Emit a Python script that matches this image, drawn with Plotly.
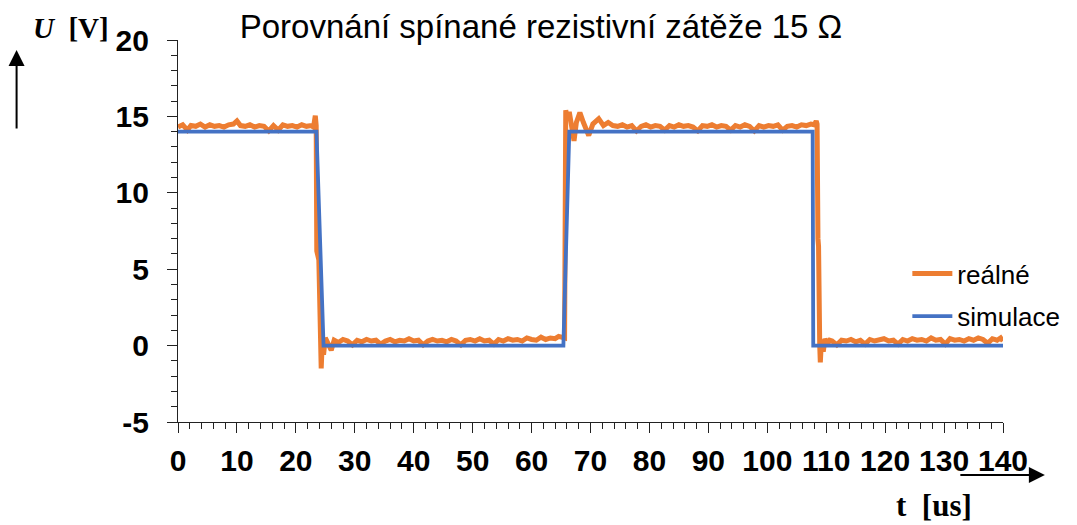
import plotly.graph_objects as go

# ---- data ----
t_real = [0.0, 0.8, 1.6, 2.2, 3.0, 3.8, 4.6, 5.4, 6.2, 7.0, 7.8, 8.6, 9.4, 10.0, 10.6, 11.4, 12.2, 13.0,
          13.8, 14.6, 15.4, 16.2, 17.0, 17.8, 18.6, 19.4, 20.2, 21.0, 21.8, 22.6, 23.0, 23.3, 23.45,
          23.55, 23.9, 24.1, 24.3, 24.5, 24.7, 25.0, 25.5, 26.0, 26.5, 27.2, 28.0, 28.8, 29.6, 30.4,
          31.2, 32.0, 32.8, 33.6, 34.4, 35.2, 36.0, 36.8, 37.6, 38.4, 39.2, 40.0, 40.8, 41.6, 42.4,
          43.2, 44.0, 44.8, 45.6, 46.4, 47.2, 48.0, 48.8, 49.6, 50.4, 51.2, 52.0, 52.8, 53.6, 54.4,
          55.2, 56.0, 56.8, 57.6, 58.4, 59.2, 60.0, 60.8, 61.6, 62.4, 63.2, 64.0, 64.6, 65.2, 65.6,
          65.8, 66.1, 66.4, 66.7, 67.2, 67.6, 68.2, 68.8, 69.7, 70.4, 71.4, 72.2, 73.0, 73.8, 74.6,
          75.4, 76.2, 77.0, 77.8, 78.6, 79.4, 80.2, 81.0, 81.8, 82.6, 83.4, 84.2, 85.0, 85.8, 86.6,
          87.4, 88.2, 89.0, 89.8, 90.6, 91.4, 92.2, 93.0, 93.8, 94.6, 95.4, 96.2, 97.0, 97.8, 98.6,
          99.4, 100.2, 101.0, 101.8, 102.6, 103.4, 104.2, 105.0, 105.8, 106.6, 107.4, 108.0, 108.3,
          108.45, 108.6, 108.7, 108.9, 109.0, 109.2, 109.5, 109.8, 110.2, 110.6, 111.0, 111.8, 112.6,
          113.4, 114.2, 115.0, 115.8, 116.6, 117.4, 118.2, 119.0, 119.8, 120.6, 121.4, 122.2, 123.0,
          123.8, 124.6, 125.4, 126.2, 127.0, 127.8, 128.6, 129.4, 130.2, 131.0, 131.8, 132.6, 133.4,
          134.2, 135.0, 135.8, 136.6, 137.4, 138.2, 139.0, 139.6, 140.0]
v_real = [14.30, 14.45, 14.10, 14.40, 14.35, 14.50, 14.30, 14.45, 14.35, 14.40, 14.30, 14.45, 14.50,
          14.70, 14.40, 14.35, 14.45, 14.30, 14.40, 14.35, 14.05, 14.40, 14.10, 14.45, 14.35, 14.40,
          14.30, 14.45, 14.35, 14.40, 14.30, 15.05, 14.40, 6.2, 5.6, 0.5, -1.5, 0.4, -0.6, 0.5, 0.1,
          -0.3, 0.35, 0.20, 0.40, 0.30, 0.05, 0.35, 0.25, 0.40, 0.30, 0.35, 0.10, 0.30, 0.40, 0.25,
          0.35, 0.30, 0.45, 0.30, 0.35, 0.05, 0.30, 0.40, 0.30, 0.35, 0.25, 0.40, 0.30, 0.05, 0.35,
          0.40, 0.30, 0.45, 0.30, 0.35, 0.10, 0.40, 0.30, 0.45, 0.35, 0.40, 0.30, 0.50, 0.40, 0.35,
          0.55, 0.40, 0.50, 0.45, 0.60, 0.50, 0.50, 15.4, 14.8, 15.3, 14.4, 13.4, 14.6, 15.25, 14.6,
          13.75, 14.5, 14.85, 14.4, 14.6, 14.4, 14.35, 14.45, 14.30, 14.40, 14.05, 14.35, 14.45,
          14.30, 14.40, 14.35, 14.10, 14.40, 14.30, 14.45, 14.35, 14.40, 14.30, 14.05, 14.40, 14.35,
          14.45, 14.30, 14.40, 14.35, 14.10, 14.40, 14.30, 14.45, 14.35, 14.05, 14.40, 14.30, 14.40,
          14.35, 14.45, 14.10, 14.35, 14.40, 14.30, 14.45, 14.40, 14.50, 14.45, 14.70, 14.5, 7.0,
          6.5, 0.0, -1.1, 0.4, -0.4, 0.45, 0.1, 0.35, 0.30, 0.05, 0.35, 0.30, 0.40, 0.25, 0.35, 0.10,
          0.40, 0.30, 0.35, 0.45, 0.30, 0.35, 0.10, 0.40, 0.30, 0.45, 0.35, 0.40, 0.30, 0.50, 0.35,
          0.40, 0.10, 0.45, 0.35, 0.40, 0.30, 0.45, 0.35, 0.50, 0.40, 0.15, 0.45, 0.35, 0.50, 0.30]

t_sim = [0, 23.5, 24.7, 65.4, 66.4, 107.7, 107.8, 140]
v_sim = [14, 14, 0, 0, 14, 14, 0, 0]

x_ticks = [0, 10, 20, 30, 40, 50, 60, 70, 80, 90, 100, 110, 120, 130, 140]
y_ticks = [-5, 0, 5, 10, 15, 20]

title_text = "Porovnání spínané rezistivní zátěže 15 Ω"
y_label = "<i>U</i>  [V]"
x_label = "t  [us]"

# ---- layout geometry ----
W, H = 1077, 525
L, R, T, B = 178, 1077 - 1006, 40, 525 - 422
PW, PH = W - L - R, H - T - B


def px_x(px):
    return (px - L) / PW


def px_y(py):
    return (H - B - py) / PH


fig = go.Figure()
fig.add_trace(go.Scatter(x=t_real, y=v_real, mode="lines", name="reálné",
                         line=dict(color="#ED7D31", width=5), legendgroup="a"))
fig.add_trace(go.Scatter(x=t_sim, y=v_sim, mode="lines", name="simulace",
                         line=dict(color="#4472C4", width=3.8), legendgroup="b"))

tickfont = dict(family="Liberation Sans, Arial, sans-serif", size=30, color="black", weight="bold")
axis_common = dict(showgrid=False, zeroline=False, showline=True, linecolor="#222", linewidth=1.3,
                   ticks="outside", ticklen=10, tickwidth=1.3, tickcolor="#222", tickfont=tickfont)

fig.update_layout(
    width=W, height=H,
    margin=dict(l=L, r=R, t=T, b=B),
    paper_bgcolor="white", plot_bgcolor="white",
    title=dict(text=title_text, x=541 / W, xanchor="center", xref="container",
               y=1 - 26 / H, yanchor="middle", yref="container",
               font=dict(family="Liberation Sans, Arial, sans-serif", size=33, color="black")),
    xaxis=dict(range=[0, 140], tickvals=x_ticks, ticktext=[str(v) for v in x_ticks],
               minor=dict(dtick=2, tick0=0, ticks="outside", ticklen=6, tickcolor="#222", tickwidth=1),
               ticklabelstandoff=2, **axis_common),
    yaxis=dict(range=[-5, 20], tickvals=y_ticks, ticktext=[str(v) for v in y_ticks],
               minor=dict(dtick=1, tick0=0, ticks="outside", ticklen=6, tickcolor="#222", tickwidth=1),
               ticklabelstandoff=12, **axis_common),
    legend=dict(x=px_x(910), y=px_y(250), xanchor="left", yanchor="top",
                font=dict(family="Liberation Sans, Arial, sans-serif", size=26, color="black"),
                bgcolor="rgba(0,0,0,0)", traceorder="grouped", tracegroupgap=6,
                itemwidth=40),
    showlegend=True,
    hovermode=False,
)

serif = "Liberation Serif, Times New Roman, serif"
fig.add_annotation(text=y_label, xref="paper", yref="paper", x=px_x(30), y=px_y(28),
                   xanchor="left", yanchor="middle", showarrow=False,
                   font=dict(family=serif, size=29, color="black", weight="bold"))
fig.add_annotation(text=x_label, xref="paper", yref="paper", x=px_x(897), y=px_y(505),
                   xanchor="left", yanchor="middle", showarrow=False,
                   font=dict(family=serif, size=31, color="black", weight="bold"))
# arrows
fig.add_annotation(text="", xref="paper", yref="paper", x=px_x(16), y=px_y(50),
                   ax=0, ay=80, showarrow=True, arrowhead=2, arrowsize=1.6, arrowwidth=2,
                   arrowcolor="black")
fig.add_annotation(text="", xref="paper", yref="paper", x=px_x(1048), y=px_y(475),
                   ax=-86, ay=0, showarrow=True, arrowhead=2, arrowsize=1.6, arrowwidth=2,
                   arrowcolor="black")

fig.write_html("out.html", config={"displayModeBar": False},
               post_script="document.body.style.margin='0';document.body.style.padding='0';")
